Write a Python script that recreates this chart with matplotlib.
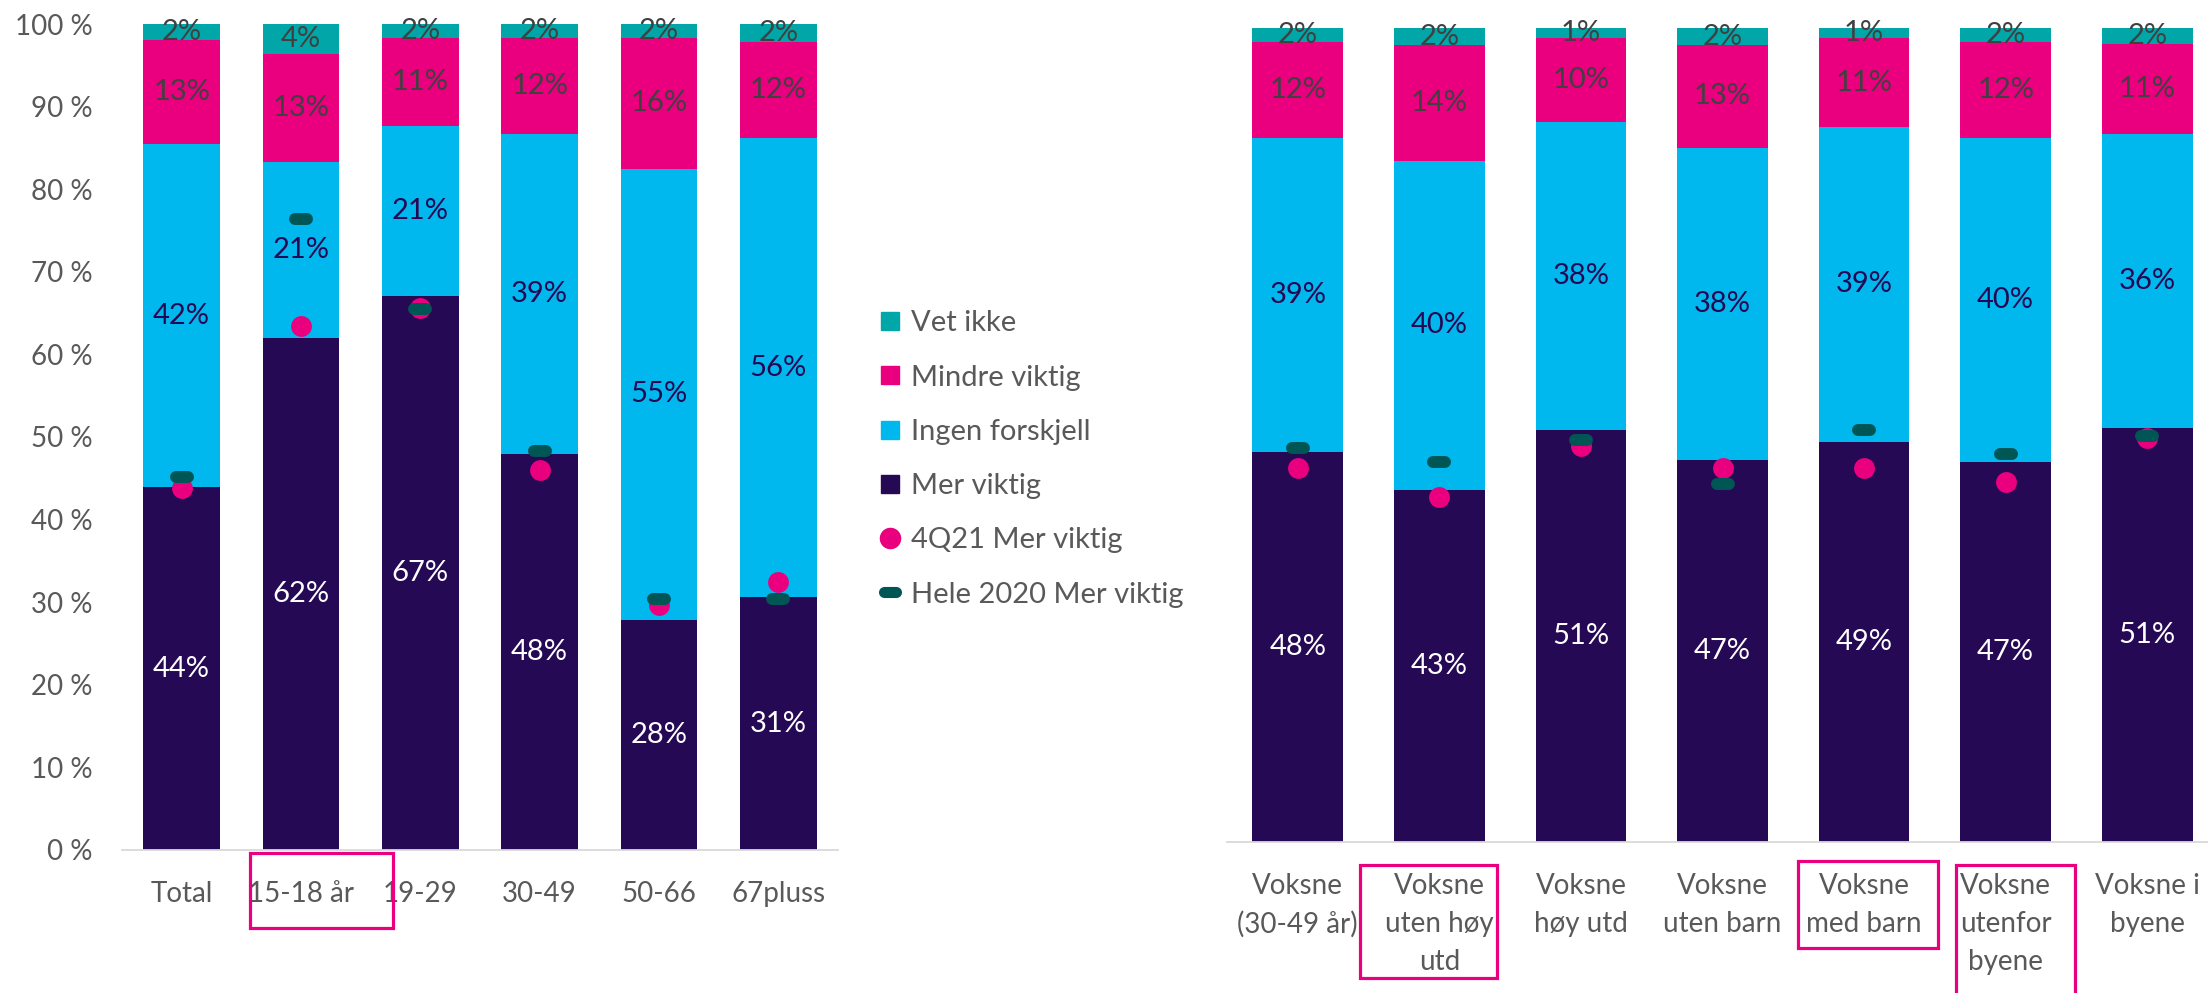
import matplotlib
matplotlib.use("Agg")
import matplotlib.pyplot as plt
import matplotlib.patches as mpatches
from matplotlib.lines import Line2D
from matplotlib.markers import MarkerStyle
import numpy as np

plt.rcParams['font.family'] = ['Lato', 'DejaVu Sans']

# colours
C_VET = '#00A6A8'
C_MINDRE = '#EA007F'
C_INGEN = '#00B7EE'
C_MER = '#260954'
C_DOT = '#EA007F'
C_DASH = '#005654'
C_TXT = '#595959'

# --- left panel: age groups ---
groups_left = ['Total', '15-18 år', '19-29', '30-49', '50-66', '67pluss']
mer_left = [43.9, 62.0, 67.1, 47.9, 27.9, 30.6]
ingen_left = [41.6, 21.3, 20.6, 38.8, 54.6, 55.6]
mindre_left = [12.6, 13.1, 10.6, 11.6, 15.8, 11.6]
vet_left = [1.9, 3.6, 1.7, 1.7, 1.7, 2.2]
q421_left = [43.8, 63.4, 65.6, 46.0, 29.7, 32.5]
hele2020_left = [45.2, 76.4, 65.5, 48.3, 30.4, 30.4]

# --- right panel: adult segments ---
groups_right = ['Voksne\n(30-49 år)', 'Voksne\nuten høy\nutd', 'Voksne\nhøy utd',
                'Voksne\nuten barn', 'Voksne\nmed barn', 'Voksne\nutenfor\nbyene',
                'Voksne i\nbyene']
mer_right = [47.9, 43.3, 50.6, 46.9, 49.2, 46.7, 50.9]
ingen_right = [38.6, 40.4, 37.9, 38.4, 38.6, 39.8, 36.1]
mindre_right = [11.8, 14.2, 10.3, 12.6, 11.0, 11.8, 11.0]
vet_right = [1.7, 2.1, 1.2, 2.1, 1.2, 1.7, 2.0]
q421_right = [45.9, 42.4, 48.6, 45.9, 45.9, 44.2, 49.6]
hele2020_right = [48.4, 46.7, 49.4, 44.0, 50.6, 47.7, 49.9]

# highlighted category labels: (bar x from, bar x to, axes y from, axes y to)
boxes_left = [(0.57, 1.77, -0.094, -0.004)]
boxes_right = [(0.44, 1.41, -0.167, -0.028),
               (3.53, 4.52, -0.130, -0.023),
               (4.65, 5.49, -0.22, -0.028)]

dash_marker = MarkerStyle('_', capstyle='round')


def stacked(ax, labels, mer, ingen, mindre, vet, q421, hele, width=0.64, lblsize=21):
    x = np.arange(len(labels))
    series = [(mer, C_MER, 'white'), (ingen, C_INGEN, C_MER),
              (mindre, C_MINDRE, '#404040'), (vet, C_VET, '#404040')]
    bottom = np.zeros(len(labels))
    for vals, col, tcol in series:
        vals = np.array(vals)
        ax.bar(x, vals, width, bottom=bottom, color=col, zorder=1)
        for xi, b, v in zip(x, bottom, vals):
            ax.text(xi, b + v / 2, f'{v:.0f}%', ha='center', va='center',
                    color=tcol, fontsize=lblsize, zorder=3)
        bottom = bottom + vals
    ax.plot(x, q421, linestyle='none', marker='o', markersize=15,
            color=C_DOT, markeredgewidth=0, zorder=4)
    ax.plot(x, hele, linestyle='none', marker=dash_marker, markersize=8.5,
            markeredgewidth=8.6, color=C_DASH, zorder=5)
    ax.set_xlim(-0.5, len(labels) - 0.5)
    ax.set_ylim(0, 100)
    ax.set_xticks(x)
    ax.set_xticklabels(labels, fontsize=20, color=C_TXT, linespacing=1.58)
    ax.tick_params(axis='x', length=0, pad=22)
    for s in ['top', 'right', 'left']:
        ax.spines[s].set_visible(False)
    ax.spines['bottom'].set_color('#D9D9D9')
    ax.spines['bottom'].set_linewidth(1.3)


def draw_boxes(ax, boxes):
    trans = ax.get_xaxis_transform()
    for x0, x1, y0, y1 in boxes:
        ax.add_patch(mpatches.Rectangle((x0, y0), x1 - x0, y1 - y0, transform=trans,
                                        fill=False, edgecolor=C_MINDRE, linewidth=2.3,
                                        clip_on=False, zorder=6))


fig = plt.figure(figsize=(22.08, 9.93), dpi=100)
ax1 = fig.add_axes([0.05525, 0.14401, 0.32428, 0.83182])
ax2 = fig.add_axes([0.55571, 0.15206, 0.44882, 0.81974])

stacked(ax1, groups_left, mer_left, ingen_left, mindre_left, vet_left,
        q421_left, hele2020_left)
ax1.set_yticks(np.arange(0, 101, 10))
ax1.set_yticklabels([f'{t} %' for t in range(0, 101, 10)], fontsize=20, color=C_TXT)
ax1.tick_params(axis='y', length=0, pad=21)
draw_boxes(ax1, boxes_left)

stacked(ax2, groups_right, mer_right, ingen_right, mindre_right, vet_right,
        q421_right, hele2020_right)
ax2.set_yticks([])
draw_boxes(ax2, boxes_right)

handles = [
    Line2D([], [], linestyle='none', marker='s', markersize=13, color=C_VET, label='Vet ikke'),
    Line2D([], [], linestyle='none', marker='s', markersize=13, color=C_MINDRE, label='Mindre viktig'),
    Line2D([], [], linestyle='none', marker='s', markersize=13, color=C_INGEN, label='Ingen forskjell'),
    Line2D([], [], linestyle='none', marker='s', markersize=13, color=C_MER, label='Mer viktig'),
    Line2D([], [], linestyle='none', marker='o', markersize=15.5, color=C_DOT,
           markeredgewidth=0, label='4Q21 Mer viktig'),
    Line2D([], [], linestyle='none', marker=dash_marker, markersize=9, markeredgewidth=8,
           color=C_DASH, label='Hele 2020 Mer viktig'),
]
fig.legend(handles=handles, loc='center left', bbox_to_anchor=(0.3966, 0.5378),
           frameon=False, fontsize=21, labelcolor=C_TXT, handlelength=1.0,
           handletextpad=0.2, labelspacing=0.97, borderpad=0, borderaxespad=0)

fig.savefig('out.png', dpi=100)
